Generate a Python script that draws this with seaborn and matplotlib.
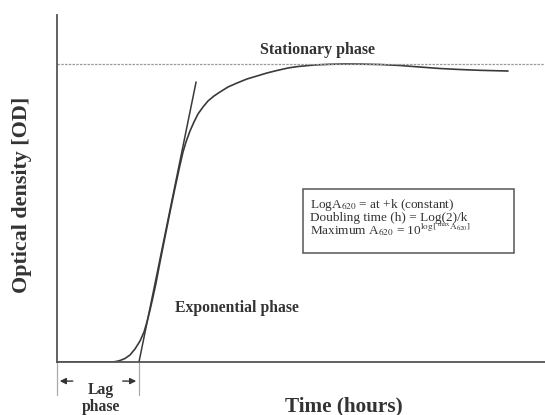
import numpy as np
import pandas as pd
import seaborn as sns
import matplotlib
matplotlib.use("Agg")
import matplotlib.pyplot as plt
from matplotlib.patches import Rectangle

# ---- data (arbitrary units) ----
time_h = [0, 11.27, 12.09, 12.91, 13.93, 14.96, 15.98, 17.01, 17.83, 18.44, 19.06,
          19.67, 20.29, 21.11, 22.13, 23.16, 24.18, 25.20, 25.82, 26.43, 27.25,
          28.07, 28.89, 29.92, 30.94, 32.17, 33.40, 35.04, 36.89, 38.93, 40.98,
          43.03, 45.08, 47.34, 49.39, 52.66, 55.94, 59.02, 62.09, 66.19, 70.29,
          74.39, 78.48, 82.58, 86.68, 89.75, 92.42]
od = [0, 0, 0.14, 0.43, 1.01, 2.02, 3.75, 6.05, 8.65, 11.53, 14.99,
      18.73, 22.77, 28.82, 36.02, 43.23, 50.14, 56.77, 60.52, 63.40, 66.57,
      69.16, 71.47, 73.49, 75.22, 76.66, 77.81, 79.25, 80.40, 81.56, 82.42,
      83.29, 84.01, 84.73, 85.16, 85.59, 85.80, 85.88, 85.85, 85.73, 85.45,
      85.01, 84.58, 84.29, 84.06, 83.95, 83.86]
tangent_x = [16.8, 28.5]
tangent_y = [0, 80.7]
plateau_level = 85.95
lag_start, lag_end = 0, 16.8

sns.set_theme(style="white")
plt.rcParams["font.family"] = ["Liberation Serif", "DejaVu Serif"]
plt.rcParams["mathtext.fontset"] = "stix"

fig = plt.figure(figsize=(5.45, 4.15), dpi=100)
ax = fig.add_axes([57/545, 53/415, 488/545, 347/415])

curve_df = pd.DataFrame({"t": time_h, "od": od})
tan_df = pd.DataFrame({"t": tangent_x, "od": tangent_y})
sns.lineplot(data=curve_df, x="t", y="od", ax=ax, color="#3a3a3a", lw=1.2, sort=False)
sns.lineplot(data=tan_df, x="t", y="od", ax=ax, color="#3a3a3a", lw=1.1, sort=False)
ax.axhline(plateau_level, color="#9a9a9a", lw=0.9, ls=(0, (2, 1)))

ax.set_xlim(0, 100)
ax.set_ylim(0, 100)
ax.set_xticks([])
ax.set_yticks([])
for s in ["top", "right"]:
    ax.spines[s].set_visible(False)
for s in ["left", "bottom"]:
    ax.spines[s].set_color("#555555")
    ax.spines[s].set_linewidth(1.3)

ax.set_xlabel("Time (hours)", fontsize=15.3, fontweight="bold", color="#333333")
ax.xaxis.set_label_coords(0.588, -0.098)
ax.set_ylabel("Optical density [OD]", fontsize=15.8, fontweight="bold", color="#333333")
ax.yaxis.set_label_coords(-0.052, 0.481)

# lag phase markers
for xv in (lag_start, lag_end):
    ax.plot([xv, xv], [0, -9.5], color="#aaaaaa", lw=0.9, clip_on=False)
ax.annotate("", xy=(lag_start, -5.5), xytext=(3.8, -5.5),
            arrowprops=dict(arrowstyle="-|>", color="#333333", lw=1.0, mutation_scale=9),
            annotation_clip=False)
ax.annotate("", xy=(lag_end, -5.5), xytext=(12.9, -5.5),
            arrowprops=dict(arrowstyle="-|>", color="#333333", lw=1.0, mutation_scale=9),
            annotation_clip=False)
ax.text(9.0, -8.0, "Lag", ha="center", va="center", fontsize=11.3, fontweight="bold",
        color="#333333", clip_on=False)
ax.text(9.0, -12.9, "phase", ha="center", va="center", fontsize=11.3, fontweight="bold",
        color="#333333", clip_on=False)

ax.text(53.3, 89.9, "Stationary phase", ha="center", va="center", fontsize=11.5,
        fontweight="bold", color="#333333")
ax.text(24.2, 15.6, "Exponential phase", ha="left", va="center", fontsize=11.3,
        fontweight="bold", color="#333333")

ax.add_patch(Rectangle((50.4, 31.4), 43.2, 18.5, fill=False, ec="#555555", lw=1.1))
ax.text(51.8, 45.3, r"LogA$_{620}$ = at +k (constant)", ha="left", va="center",
        fontsize=9.5, color="#333333")
ax.text(51.8, 41.6, "Doubling time (h) = Log(2)/k", ha="left", va="center",
        fontsize=9.5, color="#333333")
ax.text(51.8, 37.8, r"Maximum A$_{620}$ = 10$^{\mathrm{log[\ ^{max}A_{620}]}}$",
        ha="left", va="center", fontsize=9.5, color="#333333")

fig.savefig("out.png", dpi=100)
